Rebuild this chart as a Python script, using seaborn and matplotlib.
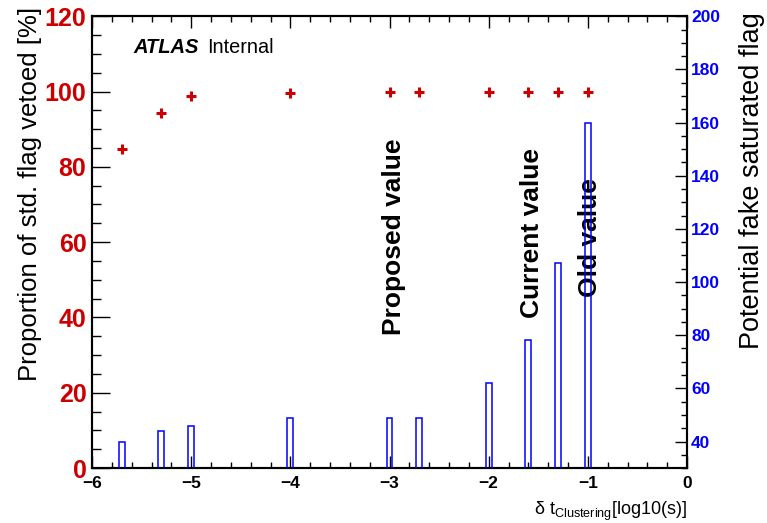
import matplotlib
matplotlib.use("Agg")
import matplotlib.pyplot as plt
import seaborn as sns
import numpy as np
from matplotlib.ticker import MultipleLocator

sns.set_style("white")
plt.rcParams['font.family'] = ['Liberation Sans', 'DejaVu Sans']
plt.rcParams['mathtext.fontset'] = 'custom'
plt.rcParams['mathtext.rm'] = 'Liberation Sans'
plt.rcParams['mathtext.it'] = 'Liberation Sans:italic'
plt.rcParams['text.color'] = 'black'
plt.rcParams['axes.labelcolor'] = 'black'
plt.rcParams['xtick.color'] = 'black'
plt.rcParams['ytick.color'] = 'black'

# data
dt_points = [-5.7, -5.3, -5.0, -4.0, -3.0, -2.7, -2.0, -1.6, -1.3, -1.0]
veto_prop = [84.7, 94.4, 98.8, 99.7, 99.9, 99.9, 99.9, 99.9, 99.9, 99.9]
fake_sat = [40, 44, 46, 49, 49, 49, 62, 78, 107, 160]
annotations = ["Proposed value", "Current value", "Old value"]
annot_x = [-2.95, -1.56, -0.975]
annot_y = [35.3, 39.9, 45.4]

red = '#cc0000'
blue = '#0000ff'

fig = plt.figure(figsize=(7.67, 5.23), dpi=100)
ax1 = fig.add_axes([0.12, 0.105, 0.7757, 0.864])
ax2 = ax1.twinx()

sns.barplot(x=dt_points, y=fake_sat, native_scale=True, width=0.2, fill=False,
            color=blue, linewidth=1.1, ax=ax2, zorder=3)
for p in ax2.patches:
    p.set_edgecolor(blue)

sns.scatterplot(x=dt_points, y=veto_prop, marker='+', s=55, color=red,
                linewidth=2.2, ax=ax1, zorder=4)

ax1.set_xlim(-6, 0)
ax1.set_ylim(0, 120)
ax2.set_ylim(30, 200)
ax2.set_xlim(-6, 0)

for t, x, y in zip(annotations, annot_x, annot_y):
    ax1.text(x, y, t, rotation=90, ha='center', va='bottom', fontsize=19,
             fontweight='bold', color='black', zorder=2)

ax1.text(0.069, 0.931, "ATLAS", transform=ax1.transAxes, fontsize=14.5,
         fontweight='bold', fontstyle='italic', va='center', ha='left')
ax1.text(0.194, 0.931, "Internal", transform=ax1.transAxes, fontsize=14.3,
         va='center', ha='left')

# ticks
ax1.xaxis.set_major_locator(MultipleLocator(1))
ax1.xaxis.set_minor_locator(MultipleLocator(0.2))
ax1.yaxis.set_major_locator(MultipleLocator(20))
ax1.yaxis.set_minor_locator(MultipleLocator(5))
ax2.yaxis.set_major_locator(MultipleLocator(20))
ax2.yaxis.set_minor_locator(MultipleLocator(5))
ax2.set_yticks([40, 60, 80, 100, 120, 140, 160, 180, 200])

ax1.tick_params(axis='x', which='major', direction='in', length=8.6, width=1,
                top=True, bottom=True, labelsize=12.5, pad=6)
ax1.tick_params(axis='x', which='minor', direction='in', length=4.3, width=1,
                top=True, bottom=True)
ax1.tick_params(axis='y', which='major', direction='in', length=13, width=1,
                left=True, right=False, labelsize=18, labelcolor=red, pad=4)
ax1.tick_params(axis='y', which='minor', direction='in', length=6.5, width=1,
                left=True, right=False)
ax2.tick_params(axis='y', which='major', direction='in', length=8.6, width=1,
                right=True, labelsize=12.5, labelcolor=blue, pad=3)
ax2.tick_params(axis='y', which='minor', direction='in', length=4.3, width=1,
                right=True)
ax2.tick_params(axis='x', which='both', bottom=False, top=False, labelbottom=False)
for lab in ax1.get_xticklabels() + ax1.get_yticklabels() + ax2.get_yticklabels():
    lab.set_fontweight('bold')

for ax in (ax1, ax2):
    for s in ax.spines.values():
        s.set_color('black')
        s.set_linewidth(1.5)

ax1.set_ylabel("Proportion of std. flag vetoed [%]", fontsize=18.5, loc='top')
ax1.yaxis.set_label_coords(-0.084, 1.02)
ax2.set_ylabel("Potential fake saturated flag", fontsize=19.5, loc='top')
ax2.yaxis.set_label_coords(1.088, 1.008)
ax1.set_xlabel("δ t$_{\\mathrm{Clustering}}$[log10(s)]", fontsize=13,
               loc='right', labelpad=6)

fig.savefig("out.png", dpi=100)
